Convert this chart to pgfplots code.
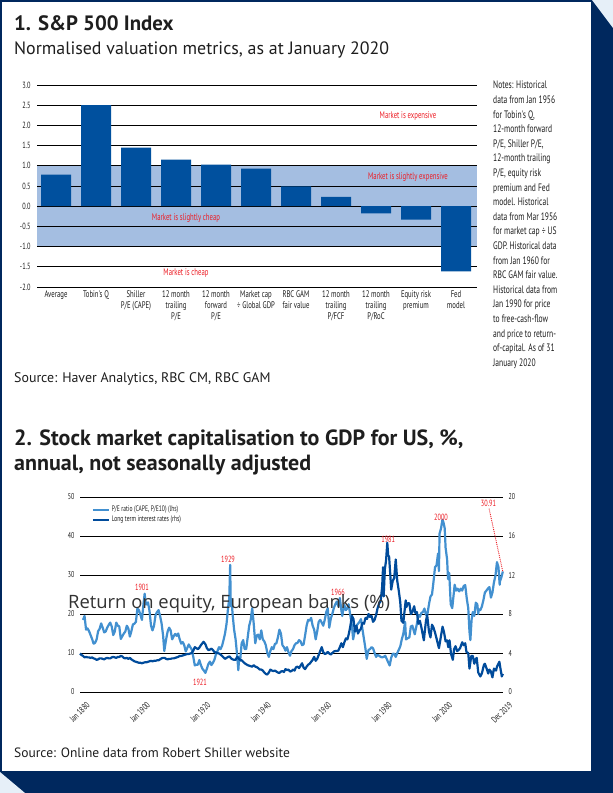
\documentclass[border=0pt]{standalone}
\usepackage{pgfplots}
\pgfplotsset{compat=1.18}
\usepackage{fontspec}
\setmainfont{PT Sans}
\newfontfamily\titlef{PT Sans}
\newfontfamily\cond{PT Sans}[FakeStretch=0.7]
\newfontfamily\rofont{Open Sans}
\definecolor{navy}{RGB}{0,40,94}
\definecolor{lightbg}{RGB}{230,239,248}
\definecolor{barblue}{RGB}{0,80,158}
\definecolor{band}{RGB}{164,190,225}
\definecolor{annred}{RGB}{237,28,36}
\definecolor{capeblue}{RGB}{66,144,208}
\definecolor{rateblue}{RGB}{0,75,155}
\definecolor{txt}{RGB}{30,30,30}

\pgfplotstableread{
x y
0 0.78
1 2.50
2 1.45
3 1.15
4 1.03
5 0.93
6 0.49
7 0.23
8 -0.18
9 -0.33
10 -1.61
}\valuation

\pgfplotstableread{
x y
-0.475 -1
10.525 -1
10.525 1
-0.475 1
}\bandtab

\pgfplotstableread{
x y
1881.0 18.5
1881.5 19.5
1882.0 16.0
1882.5 16.3
1883.0 15.6
1883.5 14.6
1884.0 13.6
1884.5 12.4
1885.0 12.6
1885.5 13.5
1886.0 15.6
1886.5 16.2
1887.0 17.6
1887.5 16.5
1888.0 15.3
1888.5 15.5
1889.0 16.5
1889.5 17.2
1890.0 17.8
1890.5 16.8
1891.0 14.6
1891.5 15.5
1892.0 17.8
1892.5 17.0
1893.0 16.8
1893.5 13.6
1894.0 14.3
1894.5 15.0
1895.0 15.5
1895.5 17.0
1896.0 16.3
1896.5 14.2
1897.0 15.6
1897.5 17.3
1898.0 17.5
1898.5 18.0
1899.0 21.4
1899.5 21.0
1900.0 19.8
1900.5 18.5
1901.0 22.5
1901.4 25.2
1901.8 22.5
1902.0 22.4
1902.5 23.0
1903.0 20.8
1903.5 17.0
1904.0 15.8
1904.5 17.0
1905.0 19.7
1905.5 20.5
1906.0 21.0
1906.5 19.5
1907.0 17.6
1907.5 14.5
1907.9 10.5
1908.5 13.5
1909.0 15.5
1909.5 16.5
1910.0 15.8
1910.5 13.5
1911.0 14.3
1911.5 14.9
1912.0 14.4
1912.5 15.0
1913.0 13.5
1913.5 12.4
1914.0 12.8
1914.5 12.0
1915.0 10.4
1915.5 11.3
1916.0 12.2
1916.5 11.5
1917.0 10.9
1917.5 9.0
1918.0 6.8
1918.5 7.0
1919.0 7.0
1919.5 8.2
1920.0 6.9
1920.5 6.0
1921.0 5.5
1921.5 4.9
1922.0 6.0
1922.5 7.2
1923.0 7.8
1923.5 6.9
1924.0 7.5
1924.5 8.3
1925.0 9.7
1925.5 10.5
1926.0 11.5
1926.5 11.0
1927.0 11.8
1927.5 13.3
1928.0 15.0
1928.5 17.5
1929.0 21.5
1929.4 24.0
1929.7 32.6
1929.9 22.0
1930.2 23.5
1930.5 20.0
1931.0 16.0
1931.5 13.5
1932.0 9.5
1932.4 5.6
1932.7 9.0
1933.0 8.0
1933.5 12.5
1934.0 13.3
1934.5 11.0
1935.0 11.0
1935.5 14.0
1936.0 17.0
1936.5 18.5
1937.0 21.5
1937.5 17.5
1938.0 12.5
1938.5 14.5
1939.0 14.7
1939.5 13.5
1940.0 15.8
1940.5 13.5
1941.0 13.0
1941.5 12.0
1942.0 10.0
1942.5 9.0
1943.0 10.5
1943.5 11.5
1944.0 11.0
1944.5 12.3
1945.0 12.5
1945.5 14.0
1946.0 16.0
1946.5 15.0
1947.0 12.0
1947.5 11.5
1948.0 10.6
1948.5 11.5
1949.0 10.2
1949.5 9.3
1950.0 10.5
1950.5 11.0
1951.0 12.0
1951.5 12.5
1952.0 12.6
1952.5 13.3
1953.0 13.0
1953.5 12.0
1954.0 12.2
1954.5 14.5
1955.0 17.0
1955.5 18.5
1956.0 18.3
1956.5 19.0
1957.0 17.0
1957.5 16.0
1958.0 13.5
1958.5 15.5
1959.0 18.0
1959.5 18.5
1960.0 17.8
1960.5 17.0
1961.0 18.5
1961.5 20.5
1962.0 21.5
1962.5 16.5
1963.0 18.8
1963.5 20.0
1964.0 21.5
1964.5 22.5
1965.0 23.2
1965.5 22.0
1966.0 24.1
1966.5 21.0
1966.8 19.5
1967.0 20.5
1967.5 22.3
1968.0 21.0
1968.5 21.5
1968.9 22.5
1969.5 19.5
1970.0 17.0
1970.4 13.5
1971.0 16.0
1971.5 17.0
1972.0 17.5
1972.5 18.0
1973.0 18.7
1973.5 16.0
1974.0 13.5
1974.5 11.0
1974.9 8.5
1975.5 10.8
1976.0 11.0
1976.5 11.5
1977.0 11.2
1977.5 10.0
1978.0 9.0
1978.5 9.5
1979.0 9.3
1979.5 9.0
1980.0 8.9
1980.5 9.0
1981.0 9.3
1981.5 8.5
1982.0 7.6
1982.5 6.8
1983.0 8.8
1983.5 9.8
1984.0 9.8
1984.5 9.0
1985.0 10.0
1985.5 10.8
1986.0 11.7
1986.5 13.5
1987.0 14.9
1987.6 18.0
1987.9 13.5
1988.5 13.8
1989.0 14.0
1989.5 16.8
1990.0 17.0
1990.8 14.8
1991.0 15.6
1991.5 17.5
1992.0 19.7
1992.5 19.3
1993.0 20.3
1993.5 20.5
1994.0 21.4
1994.5 19.8
1995.0 20.0
1995.5 22.5
1996.0 24.5
1996.5 25.0
1997.0 28.3
1997.5 32.0
1998.0 32.5
1998.5 35.5
1998.8 31.0
1999.0 40.6
1999.5 42.0
1999.95 44.2
2000.3 43.5
2000.7 42.0
2001.0 37.0
2001.5 34.0
2001.8 29.0
2002.2 30.5
2002.7 22.5
2003.2 21.5
2003.6 24.5
2004.0 27.5
2004.5 26.0
2005.0 26.5
2005.5 25.8
2006.0 26.5
2006.5 26.0
2007.0 27.2
2007.5 27.4
2008.0 24.0
2008.5 21.5
2008.9 15.5
2009.2 13.3
2009.6 18.5
2010.0 20.5
2010.5 19.5
2011.0 22.9
2011.5 22.5
2011.8 20.0
2012.0 21.2
2012.5 21.0
2013.0 21.9
2013.5 23.5
2014.0 25.5
2014.5 26.0
2015.0 26.5
2015.5 26.9
2016.0 24.2
2016.5 25.5
2017.0 28.1
2017.5 29.8
2018.0 33.3
2018.5 32.0
2018.9 27.5
2019.0 28.4
2019.5 29.5
2019.95 30.9
}\cape

\pgfplotstableread{
x y
1880.0 3.95
1880.5 3.8
1881.0 3.7
1881.5 3.55
1882.0 3.6
1882.5 3.55
1883.0 3.55
1883.5 3.5
1884.0 3.55
1884.5 3.45
1885.0 3.4
1885.5 3.3
1886.0 3.35
1886.5 3.45
1887.0 3.45
1887.5 3.4
1888.0 3.35
1888.5 3.45
1889.0 3.5
1889.5 3.45
1890.0 3.45
1890.5 3.55
1891.0 3.6
1891.5 3.55
1892.0 3.5
1892.5 3.6
1893.0 3.6
1893.5 3.7
1894.0 3.65
1894.5 3.5
1895.0 3.45
1895.5 3.5
1896.0 3.4
1896.5 3.5
1897.0 3.35
1897.5 3.25
1898.0 3.15
1898.5 3.1
1899.0 3.05
1899.5 3.0
1900.0 3.0
1900.5 2.95
1901.0 3.0
1901.5 3.05
1902.0 3.05
1902.5 3.1
1903.0 3.15
1903.5 3.2
1904.0 3.15
1904.5 3.2
1905.0 3.2
1905.5 3.25
1906.0 3.25
1906.5 3.35
1907.0 3.45
1907.5 3.5
1908.0 3.5
1908.5 3.4
1909.0 3.35
1909.5 3.4
1910.0 3.4
1910.5 3.45
1911.0 3.45
1911.5 3.5
1912.0 3.55
1912.5 3.6
1913.0 3.7
1913.5 3.7
1914.0 3.75
1914.5 3.8
1915.0 3.85
1915.5 3.9
1916.0 3.9
1916.5 3.95
1917.0 4.0
1917.5 4.25
1918.0 4.6
1918.5 4.5
1919.0 4.4
1919.5 4.55
1920.0 4.8
1920.5 5.0
1920.9 5.15
1921.5 4.9
1922.0 4.5
1922.5 4.3
1923.0 4.35
1923.5 4.45
1924.0 4.3
1924.5 4.1
1925.0 4.05
1925.5 4.0
1926.0 3.95
1926.5 3.85
1927.0 3.7
1927.5 3.55
1928.0 3.4
1928.5 3.5
1929.0 3.6
1929.5 3.65
1930.0 3.45
1930.5 3.35
1931.0 3.3
1931.5 3.3
1932.0 3.6
1932.5 3.45
1933.0 3.3
1933.5 3.25
1934.0 3.1
1934.5 2.95
1935.0 2.85
1935.5 2.75
1936.0 2.7
1936.5 2.65
1937.0 2.6
1937.5 2.75
1938.0 2.6
1938.5 2.55
1939.0 2.45
1939.5 2.3
1940.0 2.3
1940.5 2.2
1941.0 2.0
1941.5 1.85
1942.0 1.8
1942.5 2.0
1943.0 2.3
1943.5 2.2
1944.0 2.15
1944.5 2.2
1945.0 2.1
1945.5 2.0
1946.0 1.95
1946.5 2.1
1947.0 2.15
1947.5 2.05
1948.0 2.35
1948.5 2.25
1949.0 2.3
1949.5 2.1
1950.0 2.15
1950.5 2.3
1951.0 2.2
1951.5 2.55
1952.0 2.6
1952.5 2.45
1953.0 2.7
1953.5 2.95
1954.0 2.5
1954.5 2.35
1955.0 2.6
1955.5 2.8
1956.0 2.9
1956.5 3.1
1957.0 3.3
1957.5 3.6
1958.0 3.2
1958.5 3.4
1959.0 3.8
1959.5 4.2
1960.0 4.6
1960.5 4.1
1961.0 3.9
1961.5 3.95
1962.0 4.1
1962.5 3.95
1963.0 3.85
1963.5 4.0
1964.0 4.15
1964.5 4.2
1965.0 4.2
1965.5 4.25
1966.0 4.6
1966.5 5.0
1967.0 4.6
1967.5 5.1
1968.0 5.5
1968.5 5.4
1969.0 6.0
1969.5 6.8
1970.0 7.8
1970.5 7.5
1971.0 6.2
1971.5 6.8
1972.0 6.0
1972.5 6.3
1973.0 6.5
1973.5 7.1
1974.0 7.0
1974.5 7.6
1975.0 7.5
1975.5 8.0
1976.0 7.7
1976.5 7.8
1977.0 7.2
1977.5 7.4
1978.0 7.9
1978.5 8.6
1979.0 9.1
1979.5 9.3
1980.0 10.8
1980.3 12.8
1980.5 9.8
1980.9 12.6
1981.3 13.5
1981.7 15.3
1982.0 14.0
1982.3 13.9
1982.7 12.0
1983.0 10.5
1983.5 11.4
1984.0 11.7
1984.5 13.6
1985.0 11.4
1985.5 10.4
1986.0 9.2
1986.4 7.3
1987.0 7.1
1987.8 9.4
1988.0 8.7
1988.5 9.1
1989.0 9.1
1989.5 8.0
1990.0 8.2
1990.6 8.8
1991.0 8.1
1991.5 8.2
1992.0 7.0
1992.5 7.3
1993.0 6.6
1993.8 5.3
1994.5 7.3
1994.9 7.9
1995.5 6.2
1996.0 5.6
1996.5 6.9
1997.0 6.6
1997.5 6.1
1998.0 5.5
1998.8 4.5
1999.5 5.8
2000.0 6.7
2000.5 6.1
2001.0 5.2
2001.5 5.3
2001.9 4.6
2002.3 5.3
2002.8 3.9
2003.4 3.3
2003.8 4.4
2004.3 4.7
2004.8 4.2
2005.3 4.3
2005.8 4.5
2006.5 5.1
2007.0 4.8
2007.5 5.0
2007.9 4.1
2008.5 4.0
2008.9 2.4
2009.5 3.7
2010.0 3.7
2010.5 2.9
2011.0 3.4
2011.3 3.5
2011.8 2.0
2012.5 1.6
2013.0 1.9
2013.7 2.8
2014.0 2.9
2014.7 2.3
2015.1 1.9
2015.5 2.3
2016.0 2.1
2016.5 1.5
2017.0 2.4
2017.7 2.2
2018.0 2.6
2018.8 3.1
2019.0 2.7
2019.6 1.6
2019.95 1.86
}\rates

\begin{document}
\begin{tikzpicture}[x=1pt,y=1pt]
\useasboundingbox (0,0) rectangle (613,-793);
\fill[navy] (0,0) rectangle (613,-793);
\fill[lightbg] (592,0) -- (613,0) -- (613,-28) -- cycle;
\fill[lightbg] (0,-772) -- (25,-793) -- (0,-793) -- cycle;
\fill[white] (1.5,-1.5) rectangle (591,-771);

% ---- titles and texts
\node[anchor=base west, inner sep=0, text=txt, font=\titlef\bfseries\fontsize{20.8}{24}\selectfont] at (14,-30) {1. S\&P 500 Index};
\node[anchor=base west, inner sep=0, text=txt, font=\titlef\fontsize{17.9}{20}\selectfont] at (14,-54) {Normalised valuation metrics, as at January 2020};
\node[anchor=north west, inner sep=0, text=txt, align=left, font=\cond\fontsize{10.8}{14.6}\selectfont] at (493,-81) {Notes: Historical\\data from Jan 1956\\for Tobin's Q,\\12-month forward\\P/E, Shiller P/E,\\12-month trailing\\P/E, equity risk\\premium and Fed\\model. Historical\\data from Mar 1956\\for market cap ÷ US\\GDP. Historical data\\from Jan 1960 for\\RBC GAM fair value.\\Historical data from\\Jan 1990 for price\\to free-cash-flow\\and price to return-\\of-capital. As of 31\\January 2020};
\node[anchor=base west, inner sep=0, text=txt, font=\titlef\fontsize{13.9}{16}\selectfont] at (14,-382) {Source: Haver Analytics, RBC CM, RBC GAM};
\node[anchor=base west, inner sep=0, text=txt, font=\titlef\bfseries\fontsize{22}{26}\selectfont] at (14,-445) {2. Stock market capitalisation to GDP for US, \%,};
\node[anchor=base west, inner sep=0, text=txt, font=\titlef\bfseries\fontsize{22}{26}\selectfont] at (14,-470) {annual, not seasonally adjusted};
\node[anchor=base west, inner sep=0, text=txt, font=\titlef\fontsize{13.5}{16}\selectfont] at (14,-757) {Source: Online data from Robert Shiller website};

% ---- chart 1: band behind
\begin{axis}[
  at={(37pt,-287pt)}, anchor=south west,
  scale only axis, width=440pt, height=202pt,
  xmin=-0.475, xmax=10.525, ymin=-2, ymax=3,
  hide axis,
]
\addplot[fill=band, draw=none] table[x=x, y=y] {\bandtab} -- cycle;
\end{axis}

% ---- chart 1: grid, bars
\begin{axis}[
  at={(37pt,-287pt)}, anchor=south west,
  scale only axis, width=440pt, height=202pt,
  xmin=-0.475, xmax=10.525, ymin=-2, ymax=3,
  clip=false,
  axis line style={draw=none},
  major tick length=0pt,
  ytick={-2,-1.5,-1,-0.5,0,0.5,1,1.5,2,2.5,3},
  yticklabels={-2.0,-1.5,-1.0,-0.5,0.0,0.5,1.0,1.5,2.0,2.5,3.0},
  ymajorgrids, grid style={black, line width=0.7pt},
  xtick={0,...,10},
  xticklabels={Average, Tobin's Q, {Shiller\\P/E (CAPE)}, {12 month\\trailing\\P/E}, {12 month\\forward\\P/E}, {Market cap\\÷ Global GDP}, {RBC GAM\\fair value}, {12 month\\trailing\\P/FCF}, {12 month\\trailing\\P/RoC}, {Equity risk\\premium}, {Fed\\model}},
  x tick label style={font=\cond\fontsize{9.6}{11}\selectfont, align=center, anchor=north, text=txt, yshift=-0.5pt},
  y tick label style={font=\cond\fontsize{9}{10}\selectfont, anchor=east, text=txt, xshift=-3pt},
]
\addplot[ybar, bar width=30pt, fill=barblue, draw=none] table[x=x, y=y] {\valuation};
\node[text=annred, font=\cond\fontsize{9.6}{10}\selectfont] at (axis cs:8.8,2.22) {Market is expensive};
\node[text=annred, font=\cond\fontsize{9.6}{10}\selectfont] at (axis cs:8.8,0.73) {Market is slightly expensive};
\node[text=annred, font=\cond\fontsize{9.6}{10}\selectfont] at (axis cs:3.25,-0.3) {Market is slightly cheap};
\node[text=annred, font=\cond\fontsize{9.6}{10}\selectfont] at (axis cs:3.25,-1.65) {Market is cheap};
\end{axis}

% ---- chart 2, left axis (CAPE)
\begin{axis}[
  at={(80pt,-692pt)}, anchor=south west,
  scale only axis, width=423pt, height=195pt,
  xmin=1880, xmax=2020, ymin=0, ymax=50,
  clip=false,
  axis line style={draw=none},
  major tick length=0pt,
  ytick={0,10,20,30,40,50},
  ymajorgrids, grid style={black, line width=0.7pt},
  xtick={1880,1900,1920,1940,1960,1980,2000,2019.95},
  xticklabels={Jan 1880,Jan 1900,Jan 1920,Jan 1940,Jan 1960,Jan 1980,Jan 2000,Dec 2019},
  x tick label style={font=\cond\fontsize{9}{9}\selectfont, rotate=45, anchor=north east, text=txt, yshift=-7pt, xshift=1pt},
  y tick label style={font=\cond\fontsize{8.5}{9}\selectfont, text=txt, xshift=-2pt},
  /pgf/number format/assume math mode=true,
]
\addplot[capeblue, line width=2.2pt, line join=round] table[x=x, y=y] {\cape};
\node[text=annred, font=\cond\fontsize{9}{9}\selectfont] at (axis cs:1900.5,26.9) {1901};
\node[text=annred, font=\cond\fontsize{9}{9}\selectfont] at (axis cs:1929,34.1) {1929};
\node[text=annred, font=\cond\fontsize{9}{9}\selectfont] at (axis cs:1919.7,2.6) {1921};
\node[text=annred, font=\cond\fontsize{9}{9}\selectfont] at (axis cs:1965.4,25.6) {1966};
\node[text=annred, font=\cond\fontsize{9}{9}\selectfont] at (axis cs:1982,39.2) {1981};
\node[text=annred, font=\cond\fontsize{9}{9}\selectfont] at (axis cs:1999.5,44.9) {2000};
\node[text=annred, font=\cond\fontsize{9}{9}\selectfont] at (axis cs:2015.2,48.3) {30.91};
\draw[annred, densely dotted, line width=0.9pt] (axis cs:2015.4,47.0) -- (axis cs:2019.95,30.8);
\end{axis}

% ---- chart 2, right axis (rates)
\begin{axis}[
  at={(80pt,-692pt)}, anchor=south west,
  scale only axis, width=423pt, height=195pt,
  xmin=1880, xmax=2020, ymin=0, ymax=20,
  clip=false,
  axis y line*=right, axis x line=none,
  axis line style={draw=none},
  major tick length=0pt,
  xtick=\empty,
  ytick={0,4,8,12,16,20},
  y tick label style={font=\cond\fontsize{8.5}{9}\selectfont, text=txt, xshift=2pt},
  /pgf/number format/assume math mode=true,
  legend style={at={(0.02,0.975)}, anchor=north west, draw=none, fill=none, font=\cond\fontsize{8}{8}\selectfont, row sep=-1pt, text=txt},
  legend cell align=left,
  legend image code/.code={\draw[#1] (0pt,0pt) -- (16pt,0pt);},
]
\addlegendimage{capeblue, line width=2.2pt}
\addlegendentry{P/E ratio (CAPE, P/E10) (lhs)}
\addplot[rateblue, line width=2.2pt, line join=round] table[x=x, y=y] {\rates};
\addlegendentry{Long term interest rates (rhs)}
\end{axis}

\node[anchor=west, inner sep=0, text={rgb,255:red,50;green,50;blue,50}, font=\rofont\fontsize{18.4}{20}\selectfont] at (68,-604) {Return on equity, European banks (\%)};
\end{tikzpicture}
\end{document}
